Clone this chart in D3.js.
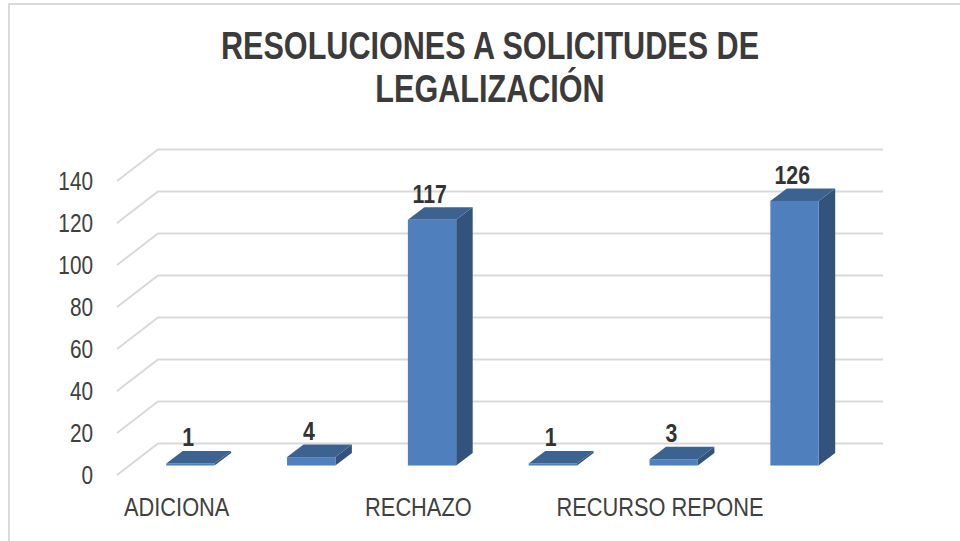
<!DOCTYPE html>
<html>
<head>
<meta charset="utf-8">
<script src="https://cdn.jsdelivr.net/npm/d3@7"></script>
<style>
    html, body { margin: 0; padding: 0; background: #fff; overflow: hidden; }
    svg { display: block; }
    text { font-family: "Liberation Sans", Arial, sans-serif; }
    .axis text { font-size: 25.5px; fill: #404040; }
    .axis path.domain { display: none; }
    .value { font-size: 25.5px; font-weight: bold; fill: #333; text-anchor: middle; }
    .title { font-size: 38px; font-weight: bold; fill: #3b3b3b; text-anchor: middle; }
</style>
</head>
<body>
<div id="chart"></div>
<script>
const titleLines = ['RESOLUCIONES A SOLICITUDES DE', 'LEGALIZACIÓN'];
// only every other category label is visible in the picture, the rest are skipped
const categories = ['ADICIONA', '', 'RECHAZO', ' ', 'RECURSO REPONE', '  '];
const values = [1, 4, 117, 1, 3, 126];
const yTicks = [0, 20, 40, 60, 80, 100, 120, 140];

const width = 960,
    height = 541,
    depthX = 41,       // floor depth of the fake 3d box
    depthY = 31.5,
    barDepthX = 16.5,
    barDepthY = 12.5,
    offX = (depthX - barDepthX) / 2 + 0.7,  // bars stand in the middle of the floor
    offY = (depthY - barDepthY) / 2,
    // the source image is squeezed sideways, so all text is too
    titleSqueeze = 0.805,
    yTickSqueeze = 0.815,
    catSqueeze = 0.855,
    valueSqueeze = 0.835;

const svg = d3.select('#chart').append('svg')
    .attr('width', width)
    .attr('height', height)
    .attr('viewBox', '0 0 ' + width + ' ' + height);

const x = d3.scaleBand()
    .domain(categories)
    .range([117, 842])
    .paddingInner(0.6)
    .paddingOuter(0.3);

const y = d3.scaleLinear()
    .domain([0, 140])
    .range([475, 181]);

// frame of the pasted chart
svg.append('path')
    .attr('d', 'M9,541V4H960')
    .attr('fill', 'none')
    .attr('stroke', '#d9d9d9')
    .attr('stroke-width', 2);

svg.selectAll('.title')
    .data(titleLines)
    .join('text')
    .attr('class', 'title')
    .attr('transform', (d, i) => `translate(490,${59 + i * 42.5}) scale(${titleSqueeze},1)`)
    .text(d => d);

// gridlines, side wall then back wall
svg.append('g')
    .selectAll('path')
    .data(yTicks)
    .join('path')
    .attr('d', d => {
        const x0 = x.range()[0], x1 = x.range()[1];
        return `M${x0},${y(d)}L${x0 + depthX},${y(d) - depthY}H${x1 + depthX}`;
    })
    .attr('fill', 'none')
    .attr('stroke', '#d9d9d9')
    .attr('stroke-width', 2);

svg.append('g')
    .attr('class', 'axis')
    .attr('transform', 'translate(' + x.range()[0] + ',0)')
    .call(d3.axisLeft(y).tickValues(yTicks).tickSize(0).tickPadding(24 / yTickSqueeze))
    .selectAll('text')
    .attr('transform', `scale(${yTickSqueeze},1)`);

svg.append('g')
    .attr('class', 'axis')
    .attr('transform', 'translate(-0.7,' + y(0) + ')')
    .call(d3.axisBottom(x).tickSize(0).tickPadding(23))
    .selectAll('text')
    .attr('transform', `scale(${catSqueeze},1)`);

const bars = svg.append('g')
    .selectAll('g')
    .data(values)
    .join('g');

function barBox(d, i) {
    const left = x(categories[i]) + offX;
    return {
        left: left,
        right: left + x.bandwidth(),
        top: y(d) - offY,
        base: y(0) - offY
    };
}

// side face
bars.append('path')
    .attr('fill', '#32537b')
    .attr('d', (d, i) => {
        const b = barBox(d, i);
        return `M${b.right},${b.base}L${b.right + barDepthX},${b.base - barDepthY}` +
            `V${b.top - barDepthY}L${b.right},${b.top}Z`;
    });

// top face
bars.append('path')
    .attr('fill', '#3c628f')
    .attr('d', (d, i) => {
        const b = barBox(d, i);
        return `M${b.left},${b.top}L${b.left + barDepthX},${b.top - barDepthY}` +
            `H${b.right + barDepthX}L${b.right},${b.top}Z`;
    });

// front face
bars.append('rect')
    .attr('fill', '#4f7fbc')
    .attr('x', (d, i) => barBox(d, i).left)
    .attr('y', (d, i) => barBox(d, i).top)
    .attr('width', x.bandwidth())
    .attr('height', (d, i) => barBox(d, i).base - barBox(d, i).top);

bars.append('text')
    .attr('class', 'value')
    .attr('transform', (d, i) => {
        const b = barBox(d, i);
        return `translate(${b.left + x.bandwidth() / 2 - 2.3},${b.top - 17}) scale(${valueSqueeze},1)`;
    })
    .text(d => d);
</script>
</body>
</html>
